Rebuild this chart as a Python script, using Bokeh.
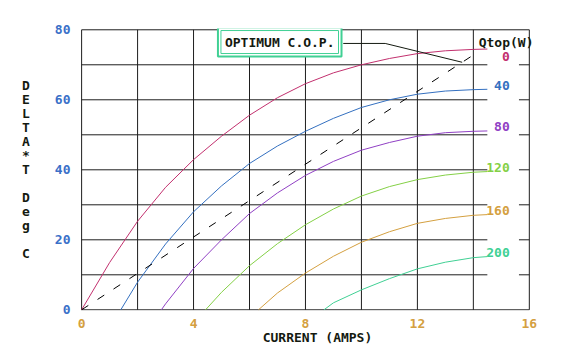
from bokeh.plotting import figure
from bokeh.models import Label, FixedTicker
from bokeh.embed import file_html
from bokeh.resources import INLINE
import numpy as np

# ---------------- data ----------------
model_text = "MODEL:TEC1-26315"
thot_text = "Thot= 50.00°C"
x_title = "CURRENT (AMPS)"
y_title = "DELTA*T Deg C"
legend_title = "Qtop(W)"
cop_text = "OPTIMUM C.O.P."

x_ticks = [0, 4, 8, 12, 16]
y_ticks = [0, 20, 40, 60, 80]

q_labels = ["0", "40", "80", "120", "160", "200"]

cur_q0 = [0, 1, 2, 3, 4, 5, 6, 7, 8, 9, 10, 11, 12, 13, 14, 14.5]
dt_q0 = [0, 13.5, 25.3, 35.0, 42.9, 49.6, 55.6, 60.6, 64.6, 67.7, 70.0, 71.8, 73.2, 74.0, 74.4, 74.5]

cur_q40 = [1.4, 2, 3, 4, 5, 6, 7, 8, 9, 10, 11, 12, 13, 14, 14.5]
dt_q40 = [0, 7.9, 18.8, 28.0, 35.4, 41.8, 46.8, 51.0, 54.7, 57.8, 60.0, 61.6, 62.5, 62.9, 63.0]

cur_q80 = [2.85, 3, 4, 5, 6, 7, 8, 9, 10, 11, 12, 13, 14, 14.5]
dt_q80 = [0, 1.7, 11.8, 20.0, 27.5, 33.4, 38.4, 42.4, 45.6, 47.8, 49.6, 50.6, 51.0, 51.1]

cur_q120 = [4.43, 5, 6, 7, 8, 9, 10, 11, 12, 13, 14, 14.5]
dt_q120 = [0, 5.0, 12.6, 18.9, 24.3, 28.8, 32.5, 35.2, 37.2, 38.5, 39.3, 39.5]

cur_q160 = [6.32, 7, 8, 9, 10, 11, 12, 13, 14, 14.5]
dt_q160 = [0, 4.8, 10.5, 15.3, 19.3, 22.3, 24.7, 26.1, 27.0, 27.2]

cur_q200 = [8.66, 9, 10, 11, 12, 13, 14, 14.5]
dt_q200 = [0, 2.0, 5.7, 8.9, 11.7, 13.6, 14.9, 15.2]

cop_current = [0, 14]
cop_dt = [0, 72.8]

# ---------------- styles ----------------
colors = ["#c2306e", "#3470c0", "#9040c4", "#84d046", "#d4a040", "#40d094"]
dark = "#141a10"
grid_c = "#1e1e1e"
mono = "DejaVu Sans Mono"
fs = "13px"

X0, X1 = 0, 16
Y0, Y1 = 0, 80

# frame is a little wider than the drawn box so right-hand texts are not clipped
p = figure(width=561, height=354, x_range=(-0.04, 16.9), y_range=(-0.2, 80.37),
           output_backend="svg", toolbar_location=None,
           min_border_left=80, min_border_right=7, min_border_top=28, min_border_bottom=44)
p.background_fill_color = "white"
p.border_fill_color = "white"
p.outline_line_color = None

# axes
for ax in (p.xaxis[0], p.yaxis[0]):
    ax.axis_line_color = None
    ax.major_tick_line_color = None
    ax.minor_tick_line_color = None
    ax.major_label_text_font = mono
    ax.major_label_text_font_size = fs
    ax.major_label_text_font_style = "bold"

p.xaxis.ticker = FixedTicker(ticks=x_ticks)
p.xaxis.major_label_text_color = colors[4]
p.xaxis.major_label_standoff = 2
p.xaxis.axis_label = x_title
p.xaxis.axis_label_text_font = mono
p.xaxis.axis_label_text_font_size = fs
p.xaxis.axis_label_text_font_style = "bold"
p.xaxis.axis_label_text_color = dark
p.xaxis.axis_label_standoff = -1

p.yaxis.ticker = FixedTicker(ticks=y_ticks)
p.yaxis.major_label_text_color = "#3a70c8"
p.yaxis.major_label_standoff = 4
p.yaxis.axis_label = "\n".join("" if ch == " " else ch for ch in y_title)
p.yaxis.axis_label_orientation = "horizontal"
p.yaxis.axis_label_text_font = mono
p.yaxis.axis_label_text_font_size = fs
p.yaxis.axis_label_text_font_style = "bold"
p.yaxis.axis_label_text_color = dark
p.yaxis.axis_label_text_line_height = 0.93
p.yaxis.axis_label_standoff = 22

p.xgrid.grid_line_color = None
p.ygrid.grid_line_color = None

# frame + grid
vx = list(range(X0, X1 + 1, 2))
p.segment(x0=vx, y0=[Y0] * len(vx), x1=vx, y1=[Y1] * len(vx), line_color=grid_c, line_width=1)
p.segment(x0=[X0, X0], y0=[Y0, Y1], x1=[X1, X1], y1=[Y0, Y1], line_color=grid_c, line_width=1)
hy = list(range(10, 80, 10))
p.segment(x0=[X0] * len(hy), y0=hy, x1=[14.5] * len(hy), y1=hy, line_color=grid_c, line_width=1)
p.segment(x0=[15.63] * len(hy), y0=hy, x1=[X1] * len(hy), y1=hy, line_color=grid_c, line_width=1)

# curves
series = [(cur_q0, dt_q0), (cur_q40, dt_q40), (cur_q80, dt_q80),
          (cur_q120, dt_q120), (cur_q160, dt_q160), (cur_q200, dt_q200)]
for (xs, ys), c, lab in zip(series, colors, q_labels):
    p.line(xs, ys, line_color=c, line_width=1)
    ly = min(ys[-1] + 1.2, 72.4)
    p.add_layout(Label(x=15.3, y=ly, text=lab, text_align="right", text_baseline="middle",
                       text_color=c, text_font=mono, text_font_size=fs, text_font_style="bold"))

# optimum COP line
p.line(cop_current, cop_dt, line_color="black", line_width=1, line_dash="8 11")

# leader from box to COP line
tip_x = 13.6
tip_y = float(np.interp(tip_x, cop_current, cop_dt))
p.line([9.35, 10.85, tip_x], [76.1, 76.1, tip_y], line_color=dark, line_width=1)

# COP box (double border): outer frame is a blank label, inner holds the text
p.add_layout(Label(x=7.08, y=76.5, text="\u00a0" * len(cop_text), text_align="center",
                   text_baseline="middle", text_font=mono, text_font_size=fs,
                   text_font_style="bold", background_fill_color="white",
                   border_line_color="#40d094", border_line_width=2, padding=7))
p.add_layout(Label(x=7.08, y=76.5, text=cop_text, text_align="center", text_baseline="middle",
                   text_color=dark, text_font=mono, text_font_size=fs, text_font_style="bold",
                   background_fill_color="white", border_line_color="#40d094",
                   border_line_width=1, padding=4))

# legend title
p.add_layout(Label(x=14.19, y=76.5, text=legend_title, text_align="left", text_baseline="middle",
                   text_color=dark, text_font=mono, text_font_size=fs, text_font_style="bold"))

# header texts
p.add_layout(Label(x=0.03, y=83.9, text=model_text, text_align="left", text_baseline="middle",
                   text_color=dark, text_font=mono, text_font_size=fs, text_font_style="bold"))
p.add_layout(Label(x=10.01, y=83.9, text=thot_text, text_align="left", text_baseline="middle",
                   text_color=dark, text_font=mono, text_font_size=fs, text_font_style="bold"))

open("out.html", "w").write(file_html(p, INLINE))
